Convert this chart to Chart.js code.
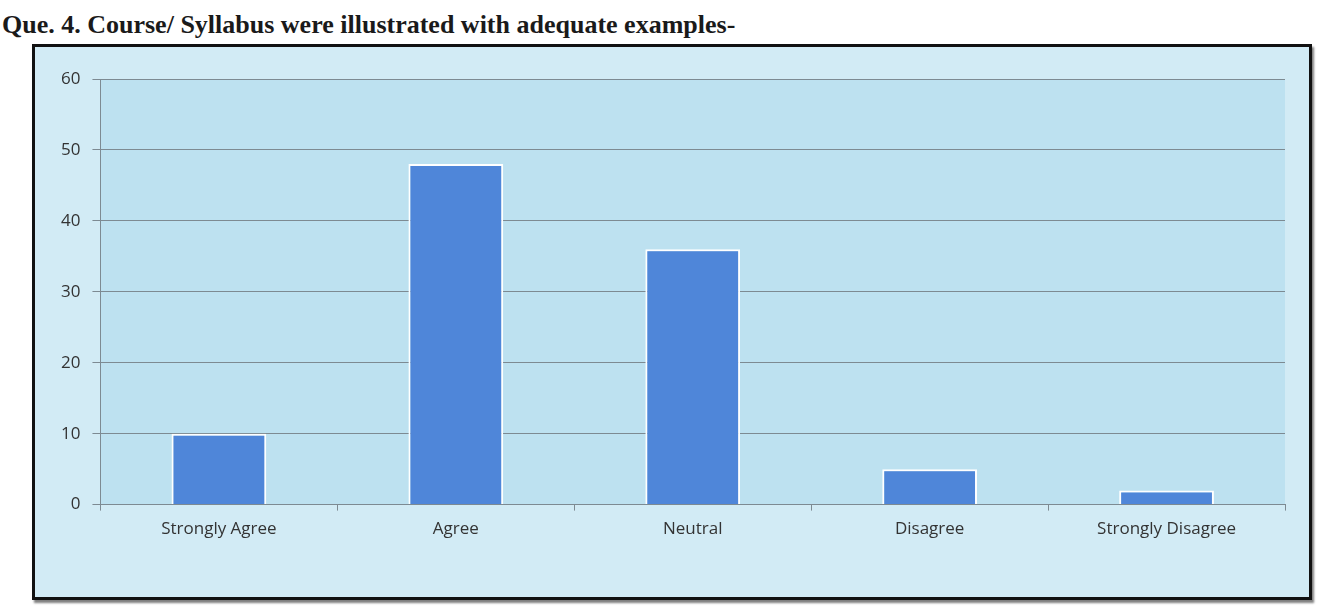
<!DOCTYPE html>
<html>
<head>
<meta charset="utf-8">
<script src="https://cdn.jsdelivr.net/npm/chart.js@4/dist/chart.umd.min.js"></script>
<style>
  body { margin: 0; background: #ffffff; width: 1329px; height: 608px; overflow: hidden; position: relative; }
  #title {
    position: absolute; left: 2px; top: 10px;
    font-family: "Liberation Serif", "DejaVu Serif", serif; font-weight: bold; font-size: 26px; color: #1a1a1a;
  }
  #frame {
    position: absolute; left: 32px; top: 44px; width: 1274px; height: 550px;
    border: 3px solid #111; background: #d2ebf5;
    box-shadow: 2px 3px 2px rgba(0,0,0,0.5);
  }
</style>
</head>
<body>
<div id="title">Que. 4. Course/ Syllabus were illustrated with adequate examples-</div>
<div id="frame"><canvas id="que4" width="1274" height="550"></canvas></div>
<script>
// QUE 4 - COURSE / SYLLABUS EXAMPLES
var categories = ["Strongly Agree", "Agree", "Neutral", "Disagree", "Strongly Disagree"];
var responses = [10, 48, 36, 5, 2];
var yTicks = [0, 10, 20, 30, 40, 50, 60];

// plot area fill
var plotBg = {
    id: 'plotBg',
    beforeDraw: function(chart) {
        var a = chart.chartArea;
        var c = chart.ctx;
        c.save();
        c.fillStyle = '#bde1f0';
        c.fillRect(a.left, a.top, a.right - a.left, a.bottom - a.top);
        c.restore();
    }
};

var ctx = document.getElementById('que4').getContext('2d');
var chart = new Chart(ctx, {
    type: 'bar',
    data: {
        labels: categories,
        datasets: [{
            label: "Responses",
            backgroundColor: '#4f86d9',
            borderColor: '#ffffff',
            borderWidth: 2,
            data: responses,
            barPercentage: 0.4,
            categoryPercentage: 1.0
        }]
    },
    options: {
        responsive: false,
        animation: false,
        layout: { padding: { left: 14, right: 24, top: 32, bottom: 50 } },
        plugins: {
            legend: { display: false },
            tooltip: { enabled: false }
        },
        scales: {
            x: {
                grid: { offset: true, drawOnChartArea: false, drawTicks: true, tickLength: 6, color: '#7d8a92' },
                border: { color: '#7d8a92', width: 1 },
                ticks: { color: '#333333', font: { family: 'Open Sans', size: 17 }, padding: 8 }
            },
            y: {
                min: 0,
                max: 60,
                afterBuildTicks: function(axis) {
                    axis.ticks = yTicks.map(function(v) { return { value: v }; });
                },
                grid: { color: '#7d8a92', lineWidth: 1, tickLength: 8 },
                border: { color: '#7d8a92', width: 1 },
                ticks: { color: '#333333', font: { family: 'Open Sans', size: 17 }, padding: 12 }
            }
        }
    },
    plugins: [plotBg]
});
</script>
</body>
</html>
